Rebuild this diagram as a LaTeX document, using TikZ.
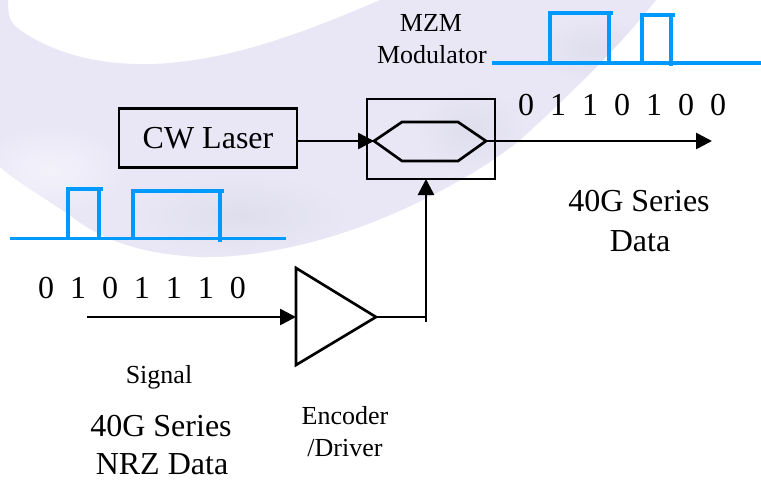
\documentclass[tikz,border=0pt]{standalone}
\usepackage{fontspec}
\setmainfont{Liberation Serif}
\usetikzlibrary{arrows.meta}
\definecolor{swoosh}{HTML}{E9E7F6}
\definecolor{swooshdark}{HTML}{DFDEEC}
\definecolor{swooshlight}{HTML}{F3F2FB}
\definecolor{wave}{HTML}{0099FF}
\newcommand{\bitrow}[1]{\hbox{\spaceskip=0.5em\relax #1}}
\tikzset{
  wire/.style={draw=black,line width=2pt},
  arrowwire/.style={wire,-{Triangle[length=12pt,width=12pt]}},
  pulse/.style={draw=wave,line width=2.6pt},
  lbl/.style={anchor=base,inner sep=0pt,font=\fontsize{24}{28}\selectfont},
  smalllbl/.style={anchor=base,inner sep=0pt,font=\fontsize{19.5}{24}\selectfont}
}
\begin{document}
\begin{tikzpicture}[x=0.75pt,y=-0.75pt]
\useasboundingbox (0,0) rectangle (761,479);
\fill[white] (0,0) rectangle (761,479);
% background swoosh
\begin{scope}
\clip (0,0) -- (8,0) .. controls (8,18) and (10,22) .. (20,30)
  .. controls (60,58) and (110,65) .. (150,64)
  .. controls (230,62) and (310,30) .. (380,0)
  -- (656,0) .. controls (625,40) and (570,95) .. (520,140)
  .. controls (480,172) and (420,205) .. (360,227)
  .. controls (310,245) and (250,258) .. (200,257)
  .. controls (140,254) and (100,240) .. (67,213)
  .. controls (40,195) and (15,180) .. (0,167) -- cycle;
\fill[swoosh] (0,0) rectangle (761,479);
\shade[inner color=swooshlight,outer color=swoosh] (50,170) ellipse (75 and 45);
\shade[inner color=swooshdark,outer color=swoosh] (240,215) ellipse (110 and 42);
\shade[inner color=swooshdark,outer color=swoosh] (595,50) ellipse (60 and 35);
\shade[inner color=swooshdark,outer color=swoosh] (470,130) ellipse (55 and 45);
\end{scope}
% waveforms
\draw[pulse] (10,238.5) -- (286,238.5);
\draw[pulse] (68,238) -- (68,189) -- (103,189);
\draw[pulse] (99,189) -- (99,238);
\draw[pulse] (133,238) -- (133,191) -- (224,191);
\draw[pulse] (220,191) -- (220,242);
\draw[pulse] (492,63) -- (761,63);
\draw[pulse] (550,63) -- (550,13) -- (613,13);
\draw[pulse] (609,13) -- (609,65);
\draw[pulse] (642,63) -- (642,15) -- (675,15);
\draw[pulse] (671,15) -- (671,66);
% laser and modulator
\node[wire,minimum width=133.5pt,minimum height=44.5pt,inner sep=0pt,font=\fontsize{24}{28}\selectfont] (laser) at (208,138) {CW Laser};
\node[wire,minimum width=96pt,minimum height=60pt,inner sep=0pt] (mzm) at (431,139) {};
\coordinate (hl) at (374,141);
\coordinate (hr) at (486,141);
\coordinate (h1) at (402,122);
\coordinate (h2) at (458,122);
\coordinate (h3) at (458,161);
\coordinate (h4) at (402,161);
\draw[wire,line join=miter] (hl) -- (h1) -- (h2) -- (hr) -- (h3) -- (h4) -- cycle;
\coordinate (laserout) at (laser.east |- hl);
\draw[arrowwire] (laserout) -- (hl);
\coordinate (dataout) at (712,141);
\draw[arrowwire] (hr) -- (dataout);
% driver
\coordinate (t1) at (296,268);
\coordinate (t2) at (376,317);
\coordinate (t3) at (296,365);
\draw[wire,line join=miter] (t1) -- (t2) -- (t3) -- cycle;
\coordinate (sigin) at (87,317);
\coordinate (tin) at (296,317);
\draw[arrowwire] (sigin) -- (tin);
\coordinate (turn) at (426,317);
\coordinate (turnb) at (426,322);
\coordinate (mzmin) at (426,179);
\draw[wire] (t2) -- (turn);
\draw[arrowwire] (turnb) -- (mzmin);
% labels
\node[smalllbl] (mzmt) at (431,31) {MZM};
\node[smalllbl] (modt) at (432,63) {Modulator};
\node[lbl] (bitsr) at (622,115) {\bitrow{0 1 1 0 1 0 0}};
\node[lbl] (s1) at (639,211) {40G Series};
\node[lbl] (s2) at (640,251) {Data};
\node[lbl] (bitsl) at (142,298) {\bitrow{0 1 0 1 1 1 0}};
\node[smalllbl] (sig) at (159,383) {Signal};
\node[lbl] (n1) at (161,436) {40G Series};
\node[lbl] (n2) at (162,474) {NRZ Data};
\node[smalllbl] (enc) at (345,424) {Encoder};
\node[smalllbl] (drv) at (345,456) {/Driver};
\end{tikzpicture}
\end{document}
